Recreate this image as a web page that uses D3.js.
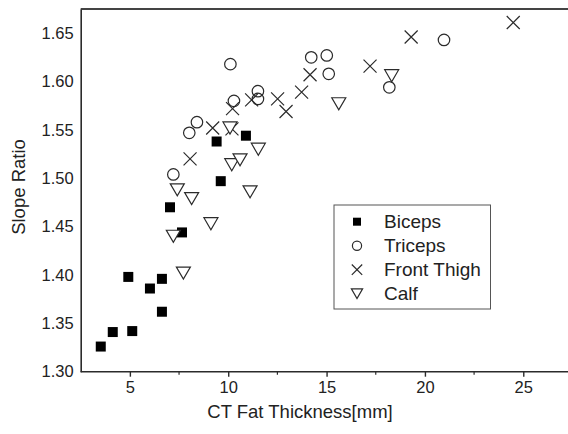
<!DOCTYPE html>
<html><head><meta charset="utf-8">
<script src="https://cdn.jsdelivr.net/npm/d3@7"></script>
<style>
body{margin:0;background:#fff;}
svg{display:block;font-family:"Liberation Sans",Arial,Helvetica,sans-serif;}
</style>
</head><body>
<svg id="chart" width="568" height="434"></svg>
<script>
// ---- data ----
const seriesNames = ["Biceps", "Triceps", "Front Thigh", "Calf"];

const bicepsX = [3.52, 4.13, 5.12, 4.92, 6.02, 6.63, 6.63, 7.04, 7.65, 9.62, 9.41, 10.90];
const bicepsY = [1.326, 1.341, 1.342, 1.398, 1.386, 1.396, 1.362, 1.470, 1.444, 1.497, 1.538, 1.544];

const tricepsX = [7.21, 8.02, 8.41, 10.11, 10.29, 11.51, 11.51, 14.22, 15.01, 15.11, 18.19, 20.97];
const tricepsY = [1.504, 1.547, 1.558, 1.618, 1.580, 1.590, 1.582, 1.625, 1.627, 1.608, 1.594, 1.643];

const thighX = [8.06, 9.21, 10.19, 10.22, 11.19, 12.51, 12.94, 13.73, 14.16, 17.21, 19.30, 24.49];
const thighY = [1.520, 1.552, 1.551, 1.572, 1.581, 1.582, 1.569, 1.589, 1.607, 1.616, 1.646, 1.661];

const calfX = [7.21, 7.41, 7.72, 8.14, 9.12, 10.09, 10.18, 10.60, 11.11, 11.53, 15.62, 18.31];
const calfY = [1.440, 1.488, 1.402, 1.479, 1.453, 1.552, 1.514, 1.519, 1.486, 1.530, 1.577, 1.606];

const xTicks = [5, 10, 15, 20, 25];
const xMinorTicks = [7.5, 12.5, 17.5, 22.5, 27.5];
const yTicks = [1.30, 1.35, 1.40, 1.45, 1.50, 1.55, 1.60, 1.65];

// ---- layout ----
const svg = d3.select("#chart");
const plotLeft = 80.7, plotTop = 9, plotBottom = 371.7;
const x = d3.scaleLinear().domain([2.5, 28]).range([plotLeft, plotLeft + 25.5 * 19.67]);
const y = d3.scaleLinear().domain([1.30, 1.675]).range([plotBottom, plotTop]);
const ink = "#2b2b2b";

// marker paths
const shapes = {
  square: s => { const h = s / 2; return `M${-h},${-h}H${h}V${h}H${-h}Z`; },
  circle: s => { const r = s / 2; return `M${r},0A${r},${r} 0 1,1 ${-r},0A${r},${r} 0 1,1 ${r},0Z`; },
  times: s => { const h = s / 2; return `M${-h},${-h}L${h},${h}M${-h},${h}L${h},${-h}`; },
  tri: s => { const w = s / 2, hh = s * 0.43; return `M${-w},${-hh}L${w},${-hh}L0,${hh}Z`; }
};
const series = [
  { name: seriesNames[0], xs: bicepsX, ys: bicepsY, shape: "square", size: 10, fill: "#000" },
  { name: seriesNames[1], xs: tricepsX, ys: tricepsY, shape: "circle", size: 11.5, fill: "none" },
  { name: seriesNames[2], xs: thighX, ys: thighY, shape: "times", size: 13, fill: "none" },
  { name: seriesNames[3], xs: calfX, ys: calfY, shape: "tri", size: 14, fill: "#fff" }
];

// frame top line (right edge is off-canvas)
svg.append("line").attr("x1", x(2.5)).attr("x2", 568).attr("y1", y(1.675)).attr("y2", y(1.675))
  .attr("stroke", "#444").attr("stroke-width", 2);

// points
series.forEach(s => {
  const g = svg.append("g");
  s.xs.forEach((xv, i) => {
    g.append("path")
      .attr("d", shapes[s.shape](s.size))
      .attr("transform", `translate(${x(xv)},${y(s.ys[i])})`)
      .attr("fill", s.fill)
      .attr("stroke", s.shape === "square" ? "none" : ink)
      .attr("stroke-width", 1.2);
  });
});

// x axis
const xAxis = svg.append("g").attr("transform", `translate(0,${plotBottom})`);
xAxis.call(d3.axisBottom(x).tickValues(xTicks).tickSize(5).tickPadding(5).tickFormat(d3.format("d")));
xAxis.select(".domain").remove();
xAxis.append("line").attr("x1", x(2.5)).attr("x2", 568).attr("stroke", ink).attr("stroke-width", 1.6);
xAxis.selectAll(".tick line").attr("stroke", ink).attr("stroke-width", 1.4);
xAxis.selectAll(".tick text").attr("font-size", 16.5).attr("fill", "#222").attr("font-family", "Liberation Sans, Arial, sans-serif");
xMinorTicks.forEach(t => {
  xAxis.append("line").attr("x1", x(t)).attr("x2", x(t)).attr("y1", 0).attr("y2", 3)
    .attr("stroke", ink).attr("stroke-width", 1.2);
});

// y axis
const yAxis = svg.append("g").attr("transform", `translate(${plotLeft},0)`);
yAxis.call(d3.axisLeft(y).tickValues(yTicks).tickSize(0).tickPadding(7).tickFormat(d3.format(".2f")));
yAxis.select(".domain").attr("stroke", ink).attr("stroke-width", 1.6);
yAxis.selectAll(".tick text").attr("font-size", 16.5).attr("fill", "#222").attr("font-family", "Liberation Sans, Arial, sans-serif");

// axis titles
svg.append("text").attr("x", 300).attr("y", 418).attr("text-anchor", "middle")
  .attr("font-size", 18.5).attr("fill", "#222").text("CT Fat Thickness[mm]");
svg.append("text").attr("transform", `translate(25,187) rotate(-90)`).attr("text-anchor", "middle")
  .attr("font-size", 18.5).attr("fill", "#222").text("Slope Ratio");

// legend
const lg = svg.append("g");
lg.append("rect").attr("x", 334).attr("y", 205).attr("width", 156.5).attr("height", 104)
  .attr("fill", "#fff").attr("stroke", "#555").attr("stroke-width", 1);
series.forEach((s, i) => {
  const cy = 221.7 + i * 24;
  lg.append("path").attr("d", shapes[s.shape](s.size * 0.8))
    .attr("transform", `translate(357,${cy})`)
    .attr("fill", s.fill).attr("stroke", s.shape === "square" ? "none" : ink).attr("stroke-width", 1.2);
  lg.append("text").attr("x", 384).attr("y", cy).attr("dy", "0.35em")
    .attr("font-size", 19).attr("fill", "#222").text(s.name);
});
</script>
</body></html>
